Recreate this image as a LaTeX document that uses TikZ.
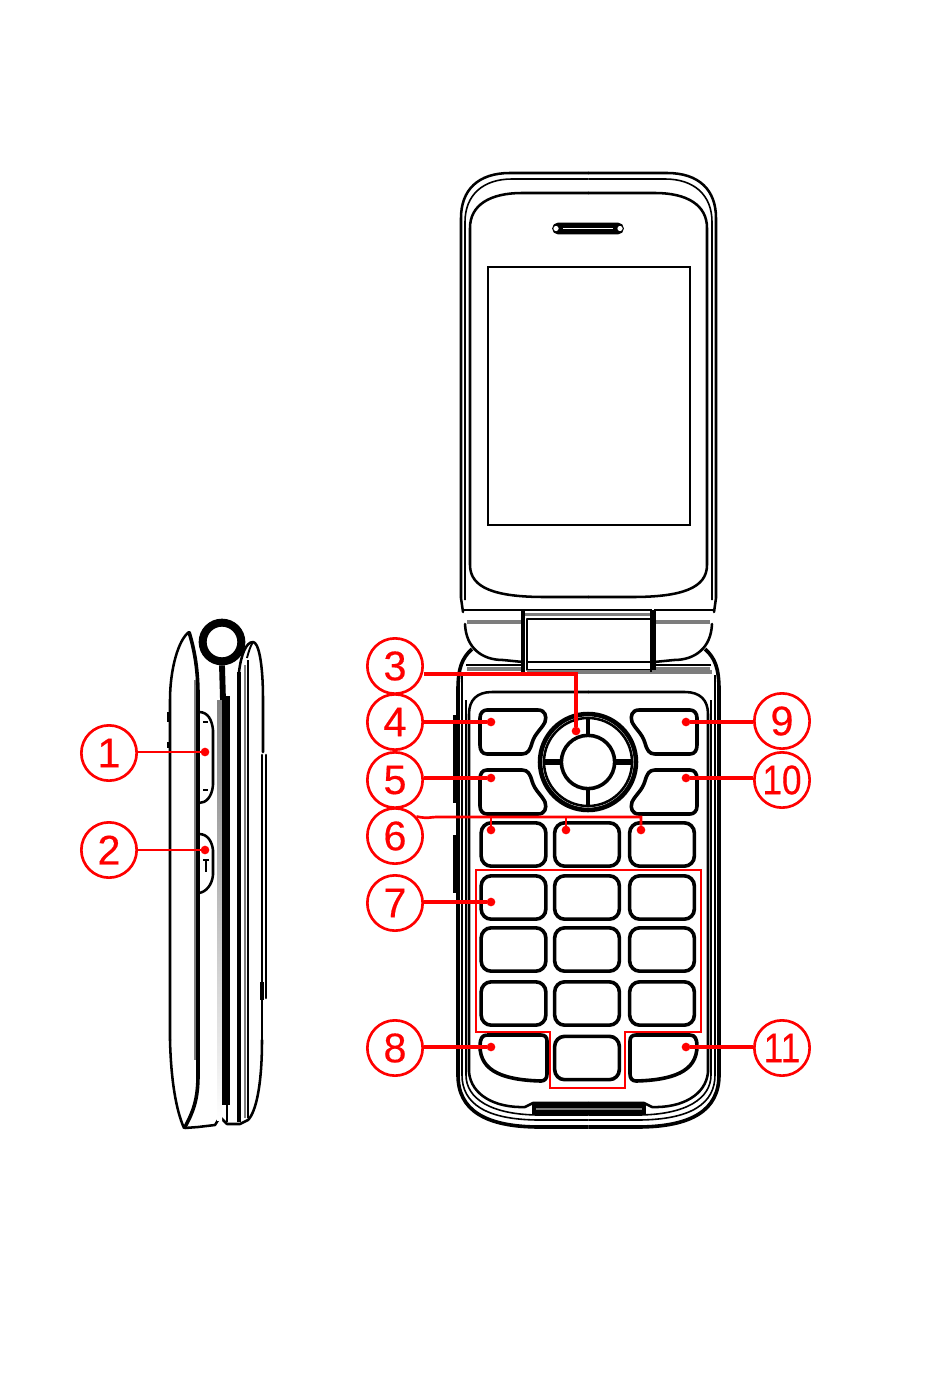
\documentclass[tikz,border=0pt]{standalone}
\usepackage{fontspec}
\usepackage{graphicx}
\setmainfont{Liberation Sans}
\newfontfamily\calloutfont[FakeBold=0.4]{Liberation Sans}
\definecolor{callred}{RGB}{255,0,0}
\definecolor{shade}{RGB}{125,125,125}
\tikzset{
  x=0.75pt,y=-0.75pt,
  ink/.style={draw=black,line width=1.9pt,line join=round,line cap=round},
  thin ink/.style={draw=black,line width=1.2pt,line join=round},
  heavy ink/.style={draw=black,line width=2.7pt,line join=round},
  grey band/.style={draw=shade,line width=2.6pt},
  keybox/.style={draw=black,line width=2.7pt,rounded corners=7.5pt,minimum width=48.5pt,minimum height=32.5pt,inner sep=0pt,outer sep=0pt},
  callout/.style={circle,draw=callred,line width=2pt,minimum size=41.5pt,inner sep=0pt,text=callred,font=\fontsize{31}{31}\calloutfont},
  pin/.style={circle,fill=callred,minimum size=6.5pt,inner sep=0pt,outer sep=0pt},
  lead/.style={draw=callred,line width=2.6pt},
  thin lead/.style={draw=callred,line width=2pt},
}
\newcommand{\softkey}{%
  \draw[heavy ink] (487,710) -- (538,710) .. controls (545,710) and (547,716) .. (545,722)
     .. controls (541,730) and (535,733) .. (532,743) .. controls (530,750) and (528,754) .. (522,754)
     -- (487,754) .. controls (482,754) and (480,750) .. (480,745) -- (480,718)
     .. controls (480,713) and (483,710) .. (487,710) -- cycle;
}
\newcommand{\halfphone}{%
  % lid
  \draw[ink] (588.5,173) -- (510,173) .. controls (478,173) and (461,190) .. (461,218) -- (461,598) -- (463,612);
  \draw[thin ink] (588.5,179) -- (512,179) .. controls (483,179) and (465,195) .. (465,222) -- (465,600);
  \draw[ink] (588.5,193) -- (522,193) .. controls (490,193) and (470,205) .. (470,228) -- (470,565)
     .. controls (470,588) and (495,597) .. (545,597) -- (588.5,597);
  % hinge
  \draw[thin ink] (463,610) -- (523,610);
  \draw[grey band] (467,622) -- (523,622);
  \draw[ink] (465,624) .. controls (466,648) and (482,660) .. (503,660) -- (523,662);
  \draw[thin ink] (466,665) -- (523,665);
  \draw[grey band] (467,669) -- (523,669);
  \draw[heavy ink] (523,610) -- (523,672);
  % lower body
  \draw[heavy ink] (472,649) .. controls (462,658) and (458,668) .. (458,690) -- (458,1075)
     .. controls (458,1110) and (485,1127) .. (540,1127) -- (588.5,1127);
  \draw[thin ink] (462,675) -- (462,1075) .. controls (462,1103) and (485,1120) .. (540,1120) -- (588.5,1120);
  \draw[thin ink] (466,700) -- (466,1075) .. controls (466,1098) and (490,1115) .. (540,1115) -- (588.5,1115);
  % keypad panel
  \draw[ink] (588.5,692) -- (492,692) .. controls (477,692) and (469,700) .. (469,714) -- (469,1072)
     .. controls (471,1095) and (495,1108) .. (525,1107) -- (533,1103) -- (588.5,1103);
  % soft keys
  \softkey
  \begin{scope}[cm={1,0,0,-1,(0,1524)}]\softkey\end{scope}
  \draw[heavy ink] (487,1035) -- (541,1035) .. controls (545,1035) and (547,1037) .. (547,1041) -- (547,1074)
     .. controls (547,1078) and (545,1081) .. (541,1081) .. controls (505,1080) and (480,1072) .. (480,1046)
     .. controls (480,1039) and (482,1035) .. (487,1035);
}
\begin{document}
\begin{tikzpicture}
\useasboundingbox (0,0) rectangle (950,1399);
\fill[white] (0,0) rectangle (950,1399);

% ---------- front view ----------
\halfphone
\begin{scope}[cm={-1,0,0,1,(1177,0)}]
  \halfphone
\end{scope}
\node[draw=black,fill=black,line width=.8pt,rounded corners=4pt,minimum width=53pt,minimum height=8pt,inner sep=0pt] (speaker) at (588,228.5) {};
\draw[draw=white,line width=1.2pt] (563,228.5) -- (613,228.5);
\fill[white] (556,228.5) circle (2.6) (620,228.5) circle (2.6);
\node[draw=black,line width=1.3pt,minimum width=151.5pt,minimum height=193.5pt,inner sep=0pt] (screen) at (589,396) {};

\draw[thin ink] (523,610) -- (652,610);
\draw[grey band] (525,614.5) -- (652,614.5);
\draw[ink] (527,619) rectangle (652,662);
\draw[ink] (527,662) -- (527,670) -- (652,670) -- (652,662);
\draw[grey band] (527,672) -- (652,672);
\draw[heavy ink] (652,610) -- (652,672);
\draw[grey band] (652,672) -- (712,672);

\draw[draw=black,line width=2.2pt,fill=black] (533,1104) rectangle (645,1114);
\draw[draw=shade,line width=1.6pt] (536,1109) -- (642,1109);

% side buttons seen from the front
\draw[black,line width=2.8pt] (455,715) -- (455,803);
\draw[black,line width=2.8pt] (455,835) -- (455,893);

% navigation ring
\node[circle,draw=black,line width=3.4pt,minimum size=72pt,inner sep=0pt] (navouter) at (588,762) {};
\node[circle,draw=black,line width=1.9pt,minimum size=66pt,inner sep=0pt] (navring) at (588,762) {};
\node[circle,draw=black,line width=2.7pt,fill=white,minimum size=40pt,inner sep=0pt] (navcentre) at (588,762) {};
\draw[heavy ink] (navcentre.north) -- (navring.north);
\draw[heavy ink] (navcentre.south) -- (navring.south);
\draw[black,line width=4.5pt] (navcentre.west) -- (navring.west);
\draw[black,line width=4.5pt] (navcentre.east) -- (navring.east);

% number keys
\foreach \col/\cx in {a/513.5,b/587,c/662}{
  \foreach \row/\cy in {r/844.5,s/897.5,t/949.5,u/1003.5}{
    \node[keybox] (key\col\row) at (\cx,\cy) {};
  }
}
\node[keybox] (keybv) at (587,1058) {};

% ---------- side view ----------
\draw[ink] (170,1040) -- (170,700) .. controls (170,670) and (178,640) .. (189,632);
\draw[black,line width=1.1pt] (168,712) -- (168,722);
\draw[black,line width=1.1pt] (168,742) -- (168,748);
\draw[ink] (170,1040) .. controls (171,1080) and (176,1110) .. (184,1128);
\draw[grey band,line width=2pt] (195,680) -- (195,1060);
\draw[heavy ink] (189,632) .. controls (193,645) and (198,665) .. (198,695) -- (198,1075)
   .. controls (198,1100) and (193,1112) .. (185,1127);
\draw[ink] (185,1128) -- (198,1127) -- (215,1125) -- (220,1117) -- (227,1124) -- (240,1124) -- (248,1120)
   .. controls (256,1112) and (262,1085) .. (262,1040);
\node[circle,draw=black,line width=6pt,minimum size=29pt,inner sep=0pt] (hinge) at (222,642) {};
\draw[draw=black,line width=4.4pt] (hinge.south) -- (223,700);
\fill[shade] (217,700) rectangle (222,1120);
\fill[black] (222,696) rectangle (230,1105);
\draw[shade,line width=1.4pt] (227,1122) -- (227,1075);
\draw[heavy ink] (239,672) -- (239,1122);
\draw[grey band,line width=1.6pt] (245,665) -- (245,1118);
\draw[black,line width=2.2pt] (248,660) -- (248,1118);
\draw[ink] (239,672) .. controls (241,655) and (246,642) .. (253,642) .. controls (258,642) and (263,660) .. (263,700) -- (263,752);
\draw[black,line width=1.4pt] (247,658) .. controls (249,650) and (251,645) .. (253,642);
\draw[ink] (262,755) -- (262,1040);
\draw[ink] (266,755) -- (266,998);
\draw[black,line width=2.8pt] (262,982) -- (262,1000);
\draw[ink] (199,712) .. controls (208,712) and (212,720) .. (213,730) -- (213,785) .. controls (212,797) and (206,803) .. (199,803);
\draw[black,line width=1.6pt] (203,722) -- (208,722) (203,790) -- (208,790);
\draw[ink] (199,834) .. controls (208,834) and (212,842) .. (213,850) -- (213,875) .. controls (212,885) and (206,892) .. (199,893);
\draw[black,line width=2.2pt] (203,860) -- (209,860) (206,860) -- (206,872);

% ---------- red markers ----------
\draw[draw=callred,line width=2.2pt] (476,870) -- (701,870) -- (701,1032) -- (625,1032) -- (625,1088) -- (550,1088) -- (550,1032) -- (476,1032) -- cycle;

\node[callout] (c1) at (109,753) {1};
\node[callout] (c2) at (109,850) {2};
\node[callout] (c3) at (395,666) {3};
\node[callout] (c4) at (395,722) {4};
\node[callout] (c5) at (395,780) {5};
\node[callout] (c6) at (395,836) {6};
\node[callout] (c7) at (395,903) {7};
\node[callout] (c8) at (395,1048) {8};
\node[callout] (c9) at (782,721) {9};
\node[callout] (c10) at (782,780) {\scalebox{.85}[1]{10}};
\node[callout] (c11) at (782,1048) {\scalebox{.85}[1]{11}};

\node[pin] (p1) at (205,752) {};
\node[pin] (p2) at (205,850) {};
\node[pin] (p3) at (576,731) {};
\node[pin] (p4) at (491,722) {};
\node[pin] (p5) at (491,778) {};
\node[pin] (p6a) at (491,830) {};
\node[pin] (p6b) at (566,830) {};
\node[pin] (p6c) at (641,830) {};
\node[pin] (p7) at (491,902) {};
\node[pin] (p8) at (491,1047) {};
\node[pin] (p9) at (686,722) {};
\node[pin] (p10) at (686,778) {};
\node[pin] (p11) at (686,1047) {};

\draw[thin lead] (c1.east |- p1) -- (p1);
\draw[thin lead] (c2.east |- p2) -- (p2);
\draw[lead] (p3) -- (576,674) -- (c3.east |- 0,674);
\draw[lead] (c4.east |- p4) -- (p4);
\draw[lead] (c5.east |- p5) -- (p5);
\draw[lead] (c7.east |- p7) -- (p7);
\draw[lead] (c8.east |- p8) -- (p8);
\draw[lead] (c9.west |- p9) -- (p9);
\draw[lead] (c10.west |- p10) -- (p10);
\draw[lead] (c11.west |- p11) -- (p11);
\draw[thin lead] (c6.north east) ++(1,1) .. controls (428,819) and (431,817) .. (436,817) -- (641,817) -- (p6c);
\draw[thin lead] (p6a) -- (491,817);
\draw[thin lead] (p6b) -- (566,817);
\end{tikzpicture}
\end{document}
